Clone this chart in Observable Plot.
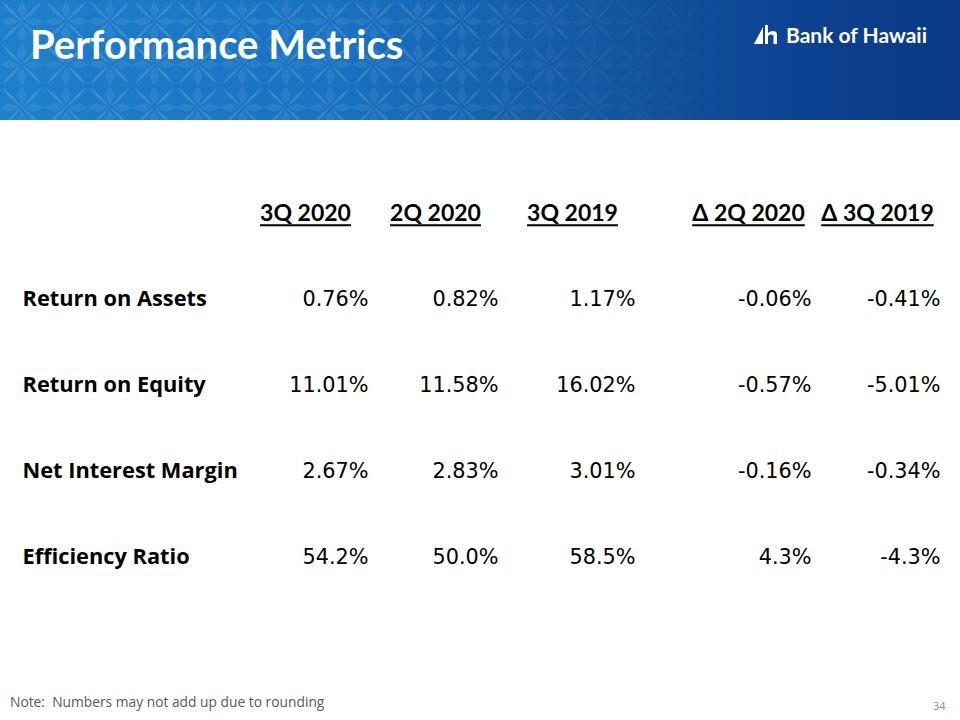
<!DOCTYPE html>
<html><head><meta charset="utf-8">
<script src="https://cdn.jsdelivr.net/npm/d3@7"></script>
<script src="https://cdn.jsdelivr.net/npm/@observablehq/plot@0.6"></script>
<style>
body{margin:0;width:960px;height:720px;position:relative;overflow:hidden;background:#fff;font-family:Lato,"Open Sans",sans-serif}
#banner{position:absolute;left:0;top:0;width:960px;height:120px;background:linear-gradient(90deg,#1e80cc 0%,#1a72c2 35%,#12559f 65%,#0c4090 85%,#0a3a86 100%);overflow:hidden}
#pattern{position:absolute;left:0;top:0;width:960px;height:120px;-webkit-mask-image:linear-gradient(90deg,#000 0%,#000 45%,rgba(0,0,0,0.3) 65%,transparent 78%);mask-image:linear-gradient(90deg,#000 0%,#000 45%,rgba(0,0,0,0.3) 65%,transparent 78%)}
#title{position:absolute;left:30px;top:20px;color:#fff;font:bold 40px Lato,"Open Sans",sans-serif}
#logo{position:absolute;left:754px;top:22px;color:#fff;font:bold 21px Lato,"Open Sans",sans-serif;display:flex;align-items:center;gap:8px}
#chart{position:absolute;left:0;top:0}
#note{position:absolute;left:10px;top:692px;color:#595959;font:13.8px "Open Sans",sans-serif}
#page{position:absolute;left:933px;top:698px;color:#8c8c8c;font:11px "Open Sans",sans-serif}
</style></head>
<body>
<div id="banner"><div id="pattern"></div>
<div id="title">Performance Metrics</div>
<div id="logo"><svg width="24" height="20" viewBox="0 0 24 20"><path d="M0 19 L9 2 L9 19 Z" fill="#fff"/><path d="M11 0 L14 0 L14 8 Q16 6 19 6 Q23 6 23 10 L23 19 L19.5 19 L19.5 11 Q19.5 9.5 17.5 9.5 Q14 9.5 14 12 L14 19 L11 19 Z" fill="#fff"/></svg><span>Bank of Hawaii</span></div>
</div>
<div id="chart"></div>
<div id="note">Note:&nbsp; Numbers may not add up due to rounding</div>
<div id="page">34</div>
<script>
// ---- data ----
const metrics = ["Return on Assets", "Return on Equity", "Net Interest Margin", "Efficiency Ratio"];
const periods = ["3Q 2020", "2Q 2020", "3Q 2019", "Δ 2Q 2020", "Δ 3Q 2019"];
const q3_2020 = [0.76, 11.01, 2.67, 54.2];
const q2_2020 = [0.82, 11.58, 2.83, 50.0];
const q3_2019 = [1.17, 16.02, 3.01, 58.5];
const chg_2q2020 = [-0.06, -0.57, -0.16, 4.3];
const chg_3q2019 = [-0.41, -5.01, -0.34, -4.3];
const decimals = [2, 2, 2, 1];

// ---- banner pattern ----
const tile = `<svg xmlns="http://www.w3.org/2000/svg" width="44" height="43" viewBox="0 0 44 43">
<g fill="#ffffff" fill-opacity="0.13">
<path d="M22 21.5 Q13 9 2 1.5 Q9 13 22 21.5Z"/><path d="M22 21.5 Q31 9 42 1.5 Q35 13 22 21.5Z"/>
<path d="M22 21.5 Q13 34 2 41.5 Q9 30 22 21.5Z"/><path d="M22 21.5 Q31 34 42 41.5 Q35 30 22 21.5Z"/>
</g><g fill="#ffffff" fill-opacity="0.07">
<path d="M22 0 L27 10 L22 19 L17 10Z"/><path d="M22 43 L27 33 L22 24 L17 33Z"/>
<path d="M0 21.5 L10 17 L19 21.5 L10 26Z"/><path d="M44 21.5 L34 17 L25 21.5 L34 26Z"/>
</g></svg>`;
document.getElementById("pattern").style.backgroundImage = `url("data:image/svg+xml,${encodeURIComponent(tile)}")`;

// ---- table data ----
const cols = [q3_2020, q2_2020, q3_2019, chg_2q2020, chg_3q2019];
const cells = [];
metrics.forEach((m, i) => periods.forEach((p, j) => cells.push({metric: m, period: p, label: cols[j][i].toFixed(decimals[i]) + "%"})));
const headers = periods.map(p => ({period: p, metric: "header"}));
const rows = metrics.map(m => ({metric: m}));

const chart = Plot.plot({
  width: 960, height: 720, margin: 0,
  style: {background: "transparent", overflow: "visible"},
  x: {type: "ordinal", domain: periods, range: [305, 435, 572, 748, 877], axis: null},
  y: {type: "point", domain: ["header", ...metrics], range: [213, 557], padding: 0, axis: null},
  marks: [
    Plot.text(headers, {x: "period", y: "metric", text: "period", fontSize: 23, fontWeight: "bold", fill: "#000", fontFamily: 'Lato, sans-serif'}),
    Plot.text(rows, {frameAnchor: "left", y: "metric", text: "metric", dx: 22, fontSize: 21.8, fontWeight: "bold", fill: "#000", fontFamily: '"Open Sans", sans-serif', textAnchor: "start"}),
    Plot.text(cells, {x: "period", y: "metric", text: "label", textAnchor: "end", dx: 63, fontSize: 20.8, fill: "#000", fontFamily: '"DejaVu Sans", sans-serif'})
  ]
});
document.getElementById("chart").appendChild(chart);
// underline the column headers (line placed in the text's own coordinate frame)
const svg = d3.select(chart);
const headerTexts = [];
svg.selectAll("text").each(function() { if (periods.includes(this.textContent)) headerTexts.push(this); });
headerTexts.forEach(t => {
  const b = t.getBBox();
  const y = b.y + b.height - 0.5;
  d3.select(t.parentNode).append("line")
    .attr("transform", t.getAttribute("transform"))
    .attr("x1", b.x).attr("x2", b.x + b.width)
    .attr("y1", y).attr("y2", y)
    .attr("stroke", "#000").attr("stroke-width", 2);
});
</script>
</body></html>
